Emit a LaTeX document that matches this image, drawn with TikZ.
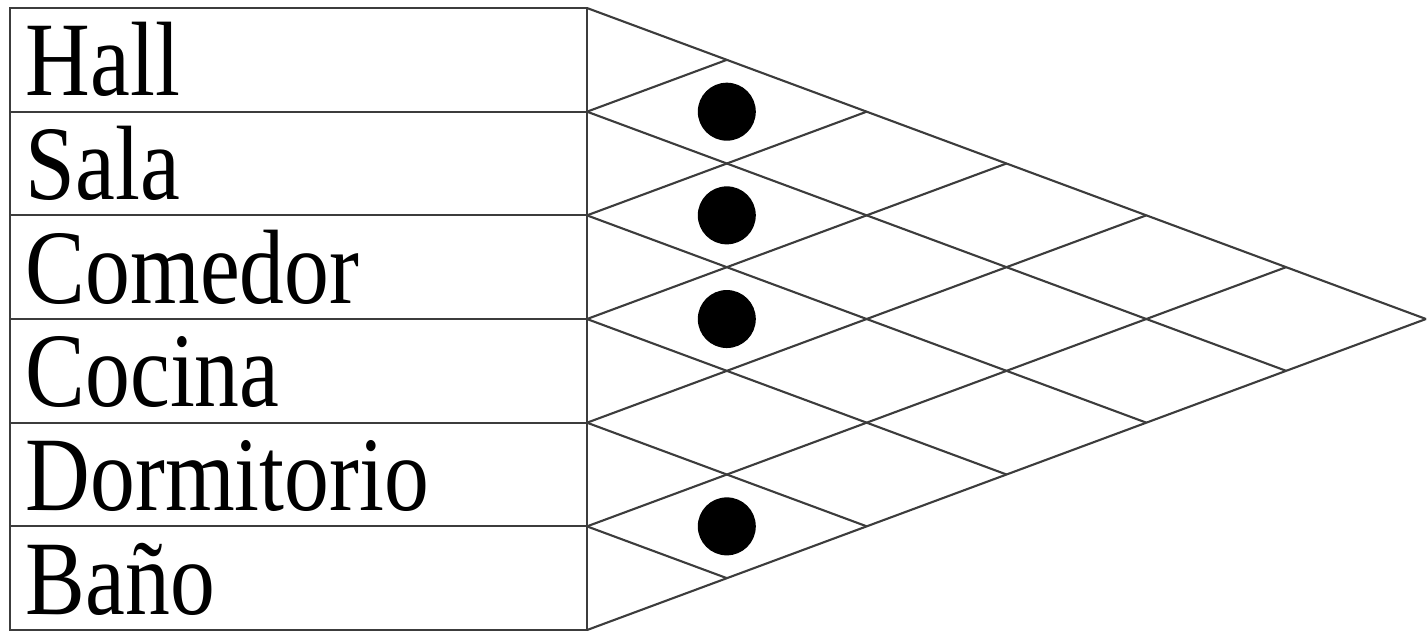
\documentclass[tikz,border=0pt]{standalone}
\usepackage{fontspec}
\setmainfont{Liberation Serif}
\usetikzlibrary{positioning}
\definecolor{RCLine}{HTML}{3C3C3C}
\newcommand{\tallword}[1]{\scalebox{1}[1.18]{#1}}

\begin{document}
\begin{tikzpicture}[x=0.1mm,y=-0.1mm,
    rowlabel/.style={anchor=base west, inner sep=0pt, font=\fontsize{25.5}{25.5}\selectfont},
    gridline/.style={RCLine, line width=0.6pt},
    tie/.style={circle, fill=black, inner sep=0pt, minimum size=5.8mm}]
  \useasboundingbox (0,0) rectangle (1427,633);
  % left column of rooms
  \foreach \k in {0,...,6}
    \coordinate (b\k) at (587,{8+\k*103.67});
  \coordinate (apex) at (1426,319);
  \draw[gridline] (10,8) rectangle (b6);
  \foreach \k in {1,...,5}
    \draw[gridline] (10,{8+\k*103.67}) -- (b\k);
  \foreach \txt [count=\k] in {Hall,Sala,Comedor,Cocina,Dormitorio,Baño}
    \node[rowlabel] (room\k) at (25,{8+\k*103.67-16}) {\tallword{\txt}};
  % triangular relation grid
  \foreach \k in {0,...,5}
    \draw[gridline] (b\k) -- ({587+(6-\k)*139.83},{8+(6+\k)*51.83});
  \foreach \k in {1,...,6}
    \draw[gridline] (b\k) -- ({587+\k*139.83},{8+\k*51.83});
  % adjacent pairs
  \foreach \k in {1,2,3,5}
    \node[tie] (tie\k) at (726.8,{8+\k*103.67}) {};
\end{tikzpicture}
\end{document}
